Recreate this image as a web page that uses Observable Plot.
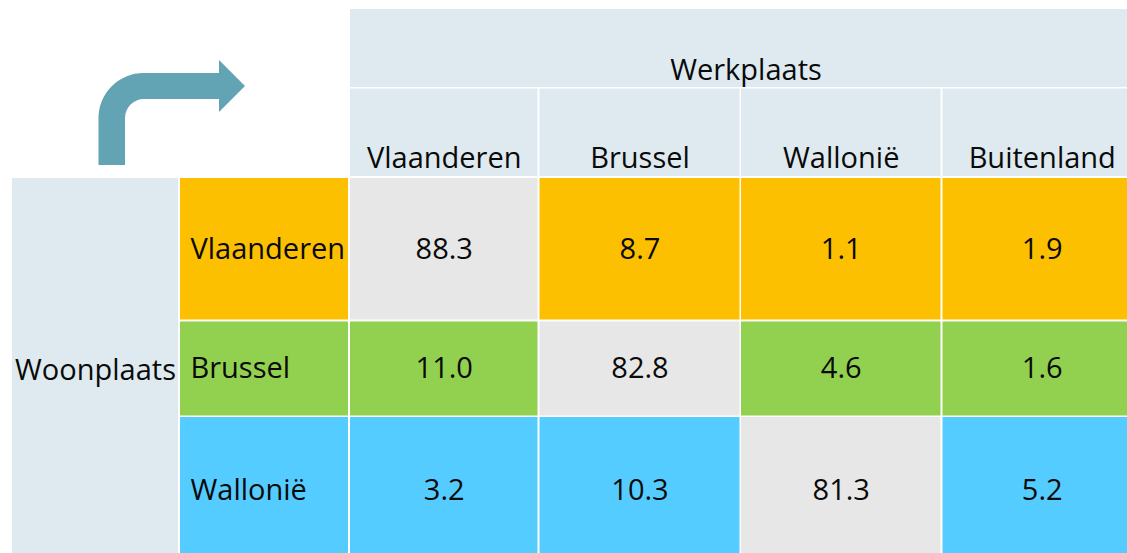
<!DOCTYPE html>
<html>
<head>
<meta charset="utf-8">
<script src="https://cdn.jsdelivr.net/npm/d3@7"></script>
<script src="https://cdn.jsdelivr.net/npm/@observablehq/plot@0.6"></script>
<style>
  html, body { margin: 0; padding: 0; background: #fff; }
  #chart svg { display: block; overflow: hidden; }
</style>
</head>
<body>
<div id="chart"></div>
<script>
// ---- Data ----
const werkplaats = ["Vlaanderen", "Brussel", "Wallonië", "Buitenland"];
const woonplaats = ["Vlaanderen", "Brussel", "Wallonië"];
const vanVlaanderen = [88.3, 8.7, 1.1, 1.9];
const vanBrussel = [11.0, 82.8, 4.6, 1.6];
const vanWallonie = [3.2, 10.3, 81.3, 5.2];
const values = [vanVlaanderen, vanBrussel, vanWallonie];
const colTitle = "Werkplaats";
const rowTitle = "Woonplaats";

// ---- Styles ----
const rowColors = ["#FCC000", "#92D050", "#55CCFF"];
const diagColor = "#E7E7E7";
const headerColor = "#DEEAF0";
const arrowColor = "#62A3B4";

// ---- Layout (table grid, in pixels) ----
const W = 1127, H = 553;
const titleCol = [12, 178];
const labelCol = [180, 348];
const dataCols = [[350, 537.5], [539.5, 739.5], [741, 940.5], [942.5, 1141]];
const headRow1 = [9, 87];
const headRow2 = [88.5, 176];
const dataRows = [[178, 319.5], [321.5, 415.5], [417, 563]];

const rects = [];
const texts = [];
// Top header spanning all data columns
rects.push({x1: dataCols[0][0], x2: dataCols[3][1], y1: headRow1[0], y2: headRow1[1], fill: headerColor});
texts.push({x: (dataCols[0][0] + dataCols[3][1]) / 2, y: headRow1[1] - 17, text: colTitle, anchor: "middle"});
// Column headers
werkplaats.forEach((w, j) => {
  const [a, b] = dataCols[j];
  rects.push({x1: a, x2: b, y1: headRow2[0], y2: headRow2[1], fill: headerColor});
  texts.push({x: (a + b) / 2, y: headRow2[1] - 18, text: w, anchor: "middle"});
});
// Row title
rects.push({x1: titleCol[0], x2: titleCol[1], y1: dataRows[0][0], y2: dataRows[2][1], fill: headerColor});
texts.push({x: (titleCol[0] + titleCol[1]) / 2, y: (dataRows[0][0] + dataRows[2][1]) / 2, text: rowTitle, anchor: "middle"});
// Row labels and values
woonplaats.forEach((r, i) => {
  const [ya, yb] = dataRows[i];
  const yc = (ya + Math.min(yb, H + 10)) / 2;
  rects.push({x1: labelCol[0], x2: labelCol[1], y1: ya, y2: yb, fill: rowColors[i]});
  texts.push({x: labelCol[0] + 10, y: yc, text: r, anchor: "start"});
  werkplaats.forEach((w, j) => {
    const [xa, xb] = dataCols[j];
    rects.push({x1: xa, x2: xb, y1: ya, y2: yb, fill: (r === w) ? diagColor : rowColors[i]});
    texts.push({x: (xa + xb) / 2, y: yc, text: values[i][j].toFixed(1), anchor: "middle"});
  });
});

// Bent arrow geometry
const arrow = {stemL: 98.5, stemR: 125, bottom: 165, barT: 73, barB: 99, R: 45, r: 19, headX: 219, headT: 60, headB: 112, tip: 245};

function arrowMark(index, scales) {
  const {x, y} = scales;
  const a = arrow;
  const p = d3.path();
  p.moveTo(x(a.stemL), y(a.bottom));
  p.lineTo(x(a.stemL), y(a.barT + a.R));
  p.arcTo(x(a.stemL), y(a.barT), x(a.stemL + a.R), y(a.barT), a.R);
  p.lineTo(x(a.headX), y(a.barT));
  p.lineTo(x(a.headX), y(a.headT));
  p.lineTo(x(a.tip), y((a.headT + a.headB) / 2));
  p.lineTo(x(a.headX), y(a.headB));
  p.lineTo(x(a.headX), y(a.barB));
  p.lineTo(x(a.stemR + a.r), y(a.barB));
  p.arcTo(x(a.stemR), y(a.barB), x(a.stemR), y(a.barB + a.r), a.r);
  p.lineTo(x(a.stemR), y(a.bottom));
  p.closePath();
  const g = d3.create("svg:path").attr("d", p.toString()).attr("fill", arrowColor);
  return g.node();
}

const font = "'Open Sans', 'Noto Sans', sans-serif";
const textMark = (anchor) => Plot.text(texts.filter(t => t.anchor === anchor), {
  x: "x", y: "y", text: "text", textAnchor: anchor, lineAnchor: "middle",
  fill: "#0a0a0a", fontSize: 29, fontFamily: font
});

const chart = Plot.plot({
  width: W, height: H,
  marginTop: 0, marginRight: 0, marginBottom: 0, marginLeft: 0,
  x: {domain: [0, W], range: [0, W], axis: null},
  y: {domain: [0, H], range: [0, H], axis: null},
  color: {type: "identity"},
  style: {fontFamily: font, background: "#fff"},
  marks: [
    Plot.rect(rects, {x1: "x1", x2: "x2", y1: "y1", y2: "y2", fill: "fill"}),
    arrowMark,
    textMark("middle"),
    textMark("start")
  ]
});
document.getElementById("chart").appendChild(chart);
</script>
</body>
</html>
